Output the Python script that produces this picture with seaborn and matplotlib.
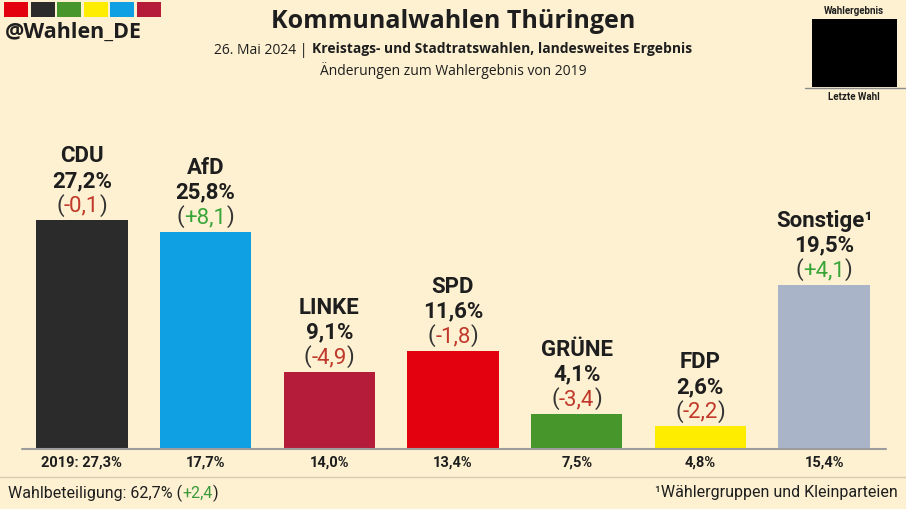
import matplotlib
matplotlib.use('Agg')
import matplotlib.pyplot as plt
import seaborn as sns
import pandas as pd
from matplotlib.offsetbox import TextArea, HPacker, AnnotationBbox
from matplotlib.patches import Rectangle
from matplotlib.lines import Line2D

# Data
parties = ['CDU', 'AfD', 'LINKE', 'SPD', 'GRÜNE', 'FDP', 'Sonstige¹']
results = [27.2, 25.8, 9.1, 11.6, 4.1, 2.6, 19.5]
changes = [-0.1, 8.1, -4.9, -1.8, -3.4, -2.2, 4.1]
results_2019 = [27.3, 17.7, 14.0, 13.4, 7.5, 4.8, 15.4]
colors = ['#2b2b2b', '#0f9fe3', '#b51c3a', '#e3000f', '#46962b', '#ffed00', '#aab4c9']
logo_colors = ['#e3000f', '#2b2b2b', '#46962b', '#ffed00', '#0f9fe3', '#b51c3a']
turnout = 62.7
turnout_change = 2.4


def fmt(v):
    return f'{v:.1f}'.replace('.', ',')


def fmt_change(v):
    return ('+' if v > 0 else '') + fmt(v)


sns.set_theme(style='white')
plt.rcParams['font.family'] = ['Roboto', 'DejaVu Sans']

bg = '#fdf1d1'
dark = '#1e1e1e'
red = '#c0392b'
green = '#3aa63a'

W, H = 906, 510
fig = plt.figure(figsize=(9.06, 5.1), dpi=100, facecolor=bg)


def fx(px):
    return px / W


def fy(py):
    return 1 - py / H


# Bars
ax = fig.add_axes([fx(20), fy(449), fx(866), 349 / H])
ax.set_facecolor(bg)
df = pd.DataFrame({'party': parties, 'result': results})
sns.barplot(data=df, x='party', y='result', hue='party', palette=colors,
            width=0.74, saturation=1, legend=False, linewidth=0, edgecolor='none', ax=ax)
ax.set_xlim(-0.5, 6.5)
ax.set_ylim(0, 349 / 8.38)
ax.axis('off')

for i, (p, r, ch, old) in enumerate(zip(parties, results, changes, results_2019)):
    ax.annotate(p, (i, r), xytext=(0, 65), textcoords='offset pixels', ha='center', va='center',
                fontsize=16, fontweight='bold', color=dark, annotation_clip=False)
    ax.annotate(fmt(r) + '%', (i, r), xytext=(0, 40), textcoords='offset pixels', ha='center', va='center',
                fontsize=16, fontweight='bold', color=dark, annotation_clip=False)
    tp = dict(fontsize=16, color='#333333', family=['Roboto', 'DejaVu Sans'])
    parts = [TextArea('(', textprops=tp),
             TextArea(fmt_change(ch), textprops=dict(tp, color=green if ch > 0 else red)),
             TextArea(')', textprops=tp)]
    box = HPacker(children=parts, align='baseline', pad=0, sep=0)
    ab = AnnotationBbox(box, (i, r), xybox=(0, 16 * 0.72), xycoords='data', boxcoords='offset points',
                        frameon=False, box_alignment=(0.5, 0.5), annotation_clip=False)
    ax.add_artist(ab)
    lab = ('2019: ' if i == 0 else '') + fmt(old) + '%'
    ax.annotate(lab, (i, 0), xytext=(0, -14), textcoords='offset pixels', ha='center', va='center',
                fontsize=10.5, fontweight='bold', color=dark, annotation_clip=False)

# Lines
fig.add_artist(Line2D([fx(22), fx(886)], [fy(450), fy(450)], color='#9c9c9c', lw=1.5))
fig.add_artist(Line2D([0, 1], [fy(478), fy(478)], color='#d8ccae', lw=1))

# Logo
for k, c in enumerate(logo_colors):
    fig.add_artist(Rectangle((fx(4 + k * 26.6), fy(18)), fx(24), 15 / H, transform=fig.transFigure,
                             color=c, lw=0))
fig.text(fx(5), fy(32), '@Wahlen_DE', fontsize=15.5, fontweight='bold', color=dark,
         ha='left', va='center', family=['Open Sans', 'DejaVu Sans'])

# Title block
fig.text(0.5, fy(22), 'Kommunalwahlen Thüringen', fontsize=18, fontweight='bold', color=dark,
         ha='center', va='center', family=['Open Sans', 'DejaVu Sans'])
sub = HPacker(children=[
    TextArea('26. Mai 2024 | ', textprops=dict(fontsize=10, color=dark, family=['Open Sans'])),
    TextArea('Kreistags- und Stadtratswahlen, landesweites Ergebnis',
             textprops=dict(fontsize=10, color=dark, fontweight='bold', family=['Open Sans']))],
    align='baseline', pad=0, sep=0)
fig.add_artist(AnnotationBbox(sub, (0.5, fy(50)), xycoords='figure fraction', frameon=False,
                              box_alignment=(0.5, 0.5)))
fig.text(0.5, fy(71), 'Änderungen zum Wahlergebnis von 2019', fontsize=10, color=dark,
         ha='center', va='center', family=['Open Sans', 'DejaVu Sans'])

# Legend box
fig.add_artist(Rectangle((fx(812), fy(88)), fx(85), 68 / H, transform=fig.transFigure, color='black', lw=0))
fig.add_artist(Line2D([fx(805), 1], [fy(89), fy(89)], color='#8c8c8c', lw=1))
fig.text(fx(854), fy(11), 'Wahlergebnis', fontsize=7, fontweight='bold', color=dark, ha='center', va='center')
fig.text(fx(854), fy(97), 'Letzte Wahl', fontsize=7, fontweight='bold', color=dark, ha='center', va='center')

# Footer
ftp = dict(fontsize=11.5, color=dark, family=['Roboto', 'DejaVu Sans'])
foot = HPacker(children=[
    TextArea(f'Wahlbeteiligung: {fmt(turnout)}% (', textprops=ftp),
    TextArea(fmt_change(turnout_change), textprops=dict(ftp, color='#3a9a3a')),
    TextArea(')', textprops=ftp)], align='baseline', pad=0, sep=0)
fig.add_artist(AnnotationBbox(foot, (fx(8), fy(493)), xycoords='figure fraction', frameon=False,
                              box_alignment=(0, 0.5)))
fig.text(fx(898), fy(493), '¹Wählergruppen und Kleinparteien', fontsize=11.5, color=dark,
         ha='right', va='center', family=['Roboto', 'DejaVu Sans'])

fig.savefig('out.png', dpi=100, facecolor=bg)
